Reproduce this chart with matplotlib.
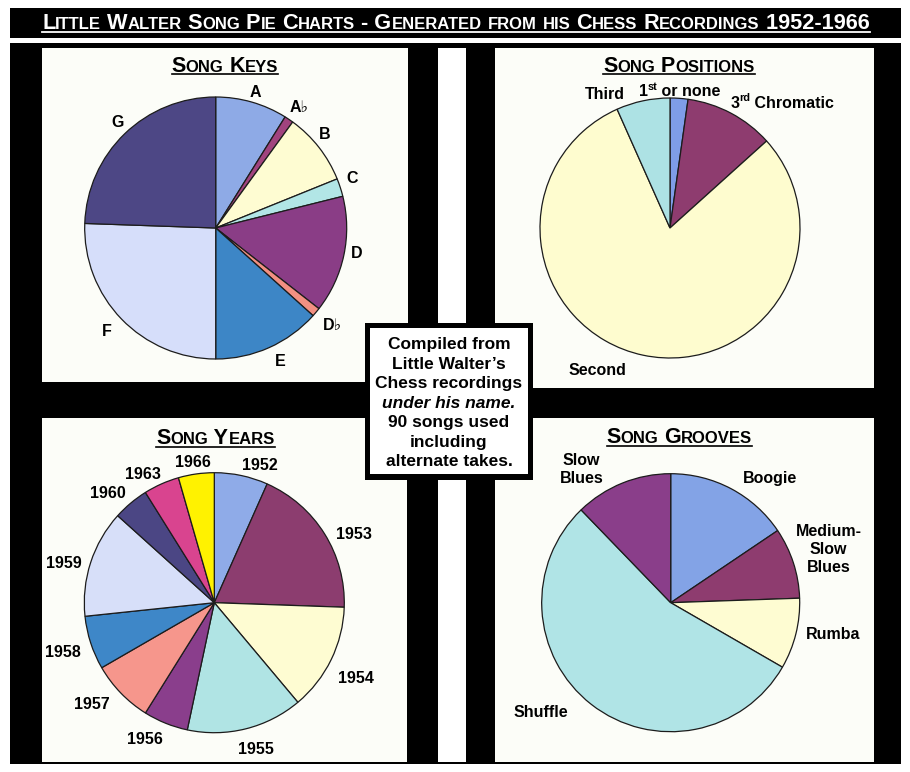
import re
import numpy as np
import matplotlib
matplotlib.use('Agg')
import matplotlib.pyplot as plt
from matplotlib import font_manager
from matplotlib.patches import Rectangle
from matplotlib.lines import Line2D
from matplotlib.transforms import IdentityTransform

W, H = 910, 772
plt.rcParams['font.family'] = ['Liberation Sans', 'DejaVu Sans']

# ---------------- data ----------------
title = "Little Walter Song Pie Charts - Generated from his Chess Recordings 1952-1966"

key_title = "Song Keys"
key_labels = ['A', 'A\u266d', 'B', 'C', 'D', 'D\u266d', 'E', 'F', 'G']
key_counts = [8, 1, 8, 2, 13, 1, 12, 23, 22]
key_colors = ['#8eaae6', '#a1437e', '#fefcd2', '#b2e6e6', '#8a3d86',
              '#f29082', '#3d86c6', '#d6defa', '#4d4785']

pos_title = "Song Positions"
pos_labels = ['1^{st} or none', '3^{rd} Chromatic', 'Second', 'Third']
pos_counts = [2, 10, 72, 6]
pos_colors = ['#7f9de8', '#8e3c6f', '#fefccf', '#ade2e4']

year_title = "Song Years"
year_labels = ['1952', '1953', '1954', '1955', '1956', '1957', '1958',
               '1959', '1960', '1963', '1966']
year_counts = [6, 17, 12, 13, 5, 7, 6, 12, 4, 4, 4]
year_colors = ['#8fabe8', '#8c3d6f', '#fefcd2', '#b0e4e4', '#8a3e8c', '#f6968c',
               '#3e87c8', '#d7dff9', '#4b4684', '#d9448f', '#fff200']

groove_title = "Song Grooves"
groove_labels = ['Boogie', 'Medium-\nSlow\nBlues', 'Rumba', 'Shuffle', 'Slow\nBlues']
groove_counts = [14, 8, 8, 49, 11]
groove_colors = ['#83a3e6', '#8e3c6f', '#fefcd2', '#b0e4e6', '#8a3e8a']

box_lines = ["Compiled from", "Little Walter\u2019s", "Chess recordings",
             "under his name.", "90 songs used", "including", "alternate takes."]

# label placement (angle nudge in degrees, distance in radii)
key_off = [0, 0.5, -3, -2.7, -2.5, -0.5, -2, 1, 1.6]
key_dist = [1.09, 1.13, 1.10, 1.11, 1.09, 1.15, 1.12, 1.14, 1.11]
pos_off = [0, 13.7, 15.4, -13.7]
pos_dist = [1.06, 1.30, 1.22, 1.15]
year_off = [6.1, 5.3, 1.6, -2, 5, 4.6, 0.3, -2.8, -3.7, -4.6, -0.7]
year_dist = [1.12, 1.2, 1.23, 1.165, 1.17, 1.215, 1.22, 1.2, 1.18, 1.14, 1.1]
groove_off = [10.2, -0.6, -3.3, 12.2, -11.8]
groove_dist = [1.24, 1.29, 1.28, 1.31, 1.24]

# ---------------- helpers ----------------
fig = plt.figure(figsize=(W / 100, H / 100), dpi=100)
fig.patch.set_facecolor('white')
renderer = fig.canvas.get_renderer()
ident = IdentityTransform()

try:
    font_manager.findfont('Liberation Sans Narrow', fallback_to_default=False)
    NARROW = ['Liberation Sans Narrow', 'Liberation Sans']
except ValueError:
    NARROW = ['Liberation Sans']


def rect(x0, y0, x1, y1, color, z=-2):
    fig.add_artist(Rectangle((x0, H - y1), x1 - x0, y1 - y0, transform=ident,
                             facecolor=color, edgecolor='none', zorder=z))


def text_width(s, size, style='normal', family=None):
    kw = dict(fontsize=size, fontweight='bold', style=style)
    if family:
        kw['family'] = family
    a = fig.text(0, 0, '|' + s + '|', **kw)
    b = fig.text(0, 0, '||', **kw)
    w = a.get_window_extent(renderer).width - b.get_window_extent(renderer).width
    a.remove()
    b.remove()
    return w


def put_runs(xc, base, runs, color='black', family=None, underline=None, z=6, fit=None):
    # xc, base: image pixels from top-left, base = baseline
    widths = [text_width(s, sz, st, family) for s, sz, rise, st in runs]
    if fit:
        k = fit / sum(widths)
        runs = [(s, sz * k, rise, st) for s, sz, rise, st in runs]
        widths = [w * k for w in widths]
    x = xc - sum(widths) / 2
    x0 = x
    for (s, sz, rise, st), w in zip(runs, widths):
        kw = dict(fontsize=sz, fontweight='bold', style=st)
        if family:
            kw['family'] = family
        fig.text(x, H - base + rise, s, transform=ident, ha='left', va='baseline',
                 color=color, zorder=z, **kw)
        x += w
    if underline is not None:
        yy = H - base - underline[0]
        fig.add_artist(Line2D([x0, x], [yy, yy], transform=ident, color=color,
                              lw=underline[1], zorder=z))


def smallcaps(s, big, small):
    runs = []
    for ch in s:
        sz, c = (small, ch.upper()) if ch.islower() else (big, ch)
        if runs and runs[-1][1] == sz:
            runs[-1][0] += c
        else:
            runs.append([c, sz])
    return [(t, sz, 0, 'normal') for t, sz in runs]


def sup_runs(s, size):
    runs = []
    for i, part in enumerate(re.split(r'\^\{(.*?)\}', s)):
        if part:
            if i % 2:
                runs.append((part, size * 0.68, size * 0.55, 'normal'))
            else:
                runs.append((part, size, 0, 'normal'))
    return runs


LAB = 11.5


def draw_pie(cx, cy, r, counts, colors, labels, offs, dists):
    L = 1.7
    half = r * L
    ax = fig.add_axes([(cx - half) / W, 1 - (cy + half) / H, 2 * half / W, 2 * half / H])
    wedges, _ = ax.pie(counts, colors=colors, startangle=90, counterclock=False,
                       wedgeprops=dict(edgecolor='#1c1c1c', linewidth=0.9))
    ax.set_xlim(-L, L)
    ax.set_ylim(-L, L)
    ax.axis('off')
    for w, lab, off, d in zip(wedges, labels, offs, dists):
        phi = np.deg2rad(90 - (w.theta1 + w.theta2) / 2 + off)
        x, y = d * np.sin(phi), d * np.cos(phi)
        if '^' in lab:
            px, py = ax.transData.transform((x, y))
            put_runs(px, H - py + 0.36 * LAB * 100 / 72, sup_runs(lab, LAB))
        elif '\n' in lab:
            ax.text(x, y, lab, ha='center', va='center', fontsize=LAB,
                    fontweight='bold', linespacing=1.28)
        else:
            ax.text(x, y, lab, ha='center', va='center_baseline', fontsize=LAB,
                    fontweight='bold')
    return ax


# ---------------- layout ----------------
rect(10, 8, 901, 38, 'black')            # title bar
rect(10, 43, 901, 764, 'black')          # frame
panel = '#fcfdf8'
rect(42, 48, 408, 382, panel)
rect(495, 48, 874, 388, panel)
rect(42, 418, 407, 762, panel)
rect(495, 418, 874, 762, panel)
rect(438, 48, 466, 388, 'white')
rect(438, 418, 466, 762, 'white')

put_runs(456, 29, smallcaps(title, 14, 10.7), color='white', family=NARROW,
         underline=(3.3, 1.3), fit=828)

put_runs(225, 71.7, smallcaps(key_title, 15.5, 12), underline=(2.3, 1.2))
put_runs(679, 71.7, smallcaps(pos_title, 15.5, 12), underline=(2.3, 1.2))
put_runs(215.5, 444.3, smallcaps(year_title, 15.5, 12), underline=(2.3, 1.2))
put_runs(679.5, 443.3, smallcaps(groove_title, 15.5, 12), underline=(2.3, 1.2))

draw_pie(215.7, 228, 131, key_counts, key_colors, key_labels, key_off, key_dist)
draw_pie(670, 228, 130, pos_counts, pos_colors, pos_labels, pos_off, pos_dist)
draw_pie(214.3, 602.7, 130, year_counts, year_colors, year_labels, year_off, year_dist)
draw_pie(670.7, 602.7, 129, groove_counts, groove_colors, groove_labels, groove_off, groove_dist)

# centre note box
rect(365, 323, 533, 480, 'black', z=5)
rect(370, 328, 528, 474, 'white', z=5)
for i, line in enumerate(box_lines):
    st = 'italic' if line.startswith('under') else 'normal'
    put_runs(449, 349.3 + 19.5 * i, [(line, 12.5, 0, st)])

fig.savefig('out.png', dpi=100)
